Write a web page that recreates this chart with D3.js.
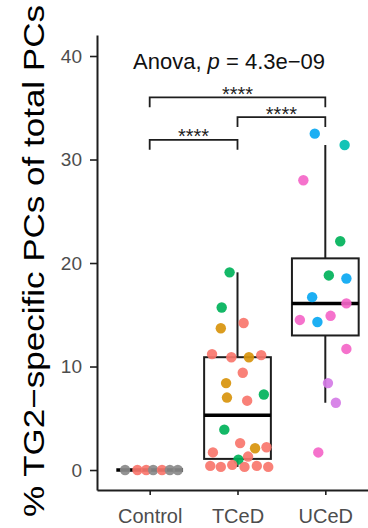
<!DOCTYPE html>
<html>
<head>
<meta charset="utf-8">
<script src="https://cdn.jsdelivr.net/npm/d3@7"></script>
<style>
  body { margin: 0; background: #fff; }
  text { font-family: "Liberation Sans", Arial, sans-serif; }
</style>
</head>
<body>
<div id="chart"></div>
<script>
// groups on the x axis
const groups = ['Control', 'TCeD', 'UCeD'];
const yTicks = [0, 10, 20, 30, 40];

// donor colours (ggplot hue style)
const donorColors = {
  gray: '#8a8a8a', salmon: '#F8766D', orange: '#D8940C', green: '#00B25A',
  teal: '#00BFB0', blue: '#0AA8F2', violet: '#D57CE6', pink: '#F466C8'
};

// values, with horizontal jitter (fraction of group step) and donor colour
const controlValues = [0, 0, 0, 0, 0, 0, 0];
const controlJitter = [-0.28, -0.14, -0.04, 0.04, 0.14, 0.23, 0.32];
const controlDonor = ['gray', 'salmon', 'salmon', 'gray', 'salmon', 'gray', 'gray'];

const tcedValues = [19.1, 15.7, 13.7, 14.2, 11.2, 10.9, 10.9, 11.1, 9.4, 8.4, 7.0, 6.7, 7.3,
  3.9, 2.6, 2.1, 2.2, 1.7, 1.0, 1.3, 0.4, 0.3, 0.5, 0.3, 0.4, 0.3];
const tcedJitter = [-0.09, -0.18, -0.19, 0.07, -0.29, -0.07, 0.13, 0.27, 0.06, -0.13, -0.12, 0.11, 0.30,
  -0.15, 0.03, 0.20, 0.33, -0.28, 0.01, 0.12, -0.31, -0.19, -0.06, 0.08, 0.22, 0.35];
const tcedDonor = ['green', 'green', 'orange', 'salmon', 'salmon', 'salmon', 'orange', 'salmon', 'salmon',
  'orange', 'orange', 'salmon', 'green', 'green', 'salmon', 'orange', 'salmon', 'salmon', 'green', 'salmon',
  'salmon', 'salmon', 'salmon', 'salmon', 'salmon', 'salmon'];

const ucedValues = [32.5, 31.4, 28.0, 22.1, 18.8, 18.5, 16.7, 16.1, 14.5, 14.3, 14.9, 11.7, 8.4, 6.5, 1.7];
const ucedJitter = [-0.12, 0.22, -0.25, 0.17, 0.04, 0.24, -0.15, 0.24, -0.29, -0.09, 0.06, 0.24, 0.03, 0.12, -0.08];
const ucedDonor = ['blue', 'teal', 'pink', 'green', 'green', 'blue', 'blue', 'pink', 'pink', 'blue', 'pink',
  'pink', 'violet', 'violet', 'pink'];

// pairwise comparisons: [from, to, bracket height]
const comparisons = [
  ['Control', 'TCeD', 31.9],
  ['TCeD', 'UCeD', 34.1],
  ['Control', 'UCeD', 36.0]
];
const compLabel = '****';
const anovaP = '4.3e\u221209';

const width = 368;
const height = 528;

const svg = d3.select('#chart')
  .append('svg')
  .attr('width', width)
  .attr('height', height);

const x = d3.scalePoint()
  .domain(groups)
  .range([97, 378])
  .padding(0.6);

const y = d3.scaleLinear()
  .domain([-1.93, 42.03])
  .range([490, 35]);

const step = x.step();
const boxW = step * 0.76;

const series = [
  {name: 'Control', values: controlValues, jitter: controlJitter, donor: controlDonor},
  {name: 'TCeD', values: tcedValues, jitter: tcedJitter, donor: tcedDonor},
  {name: 'UCeD', values: ucedValues, jitter: ucedJitter, donor: ucedDonor}
];

// box stats, ggplot style (type 7 quantiles, 1.5 IQR whiskers)
series.forEach(s => {
  const sorted = s.values.slice().sort(d3.ascending);
  s.q1 = d3.quantileSorted(sorted, 0.25);
  s.med = d3.quantileSorted(sorted, 0.5);
  s.q3 = d3.quantileSorted(sorted, 0.75);
  const iqr = s.q3 - s.q1;
  s.lo = d3.min(sorted.filter(v => v >= s.q1 - 1.5 * iqr));
  s.hi = d3.max(sorted.filter(v => v <= s.q3 + 1.5 * iqr));
});

const ink = '#1e1e1e';

// axes
const yAxis = svg.append('g')
  .attr('transform', 'translate(97,0)')
  .call(d3.axisLeft(y).tickValues(yTicks).tickSize(7).tickSizeOuter(0).tickPadding(8));
yAxis.select('.domain').attr('stroke', ink).attr('stroke-width', 2);
yAxis.selectAll('.tick line').attr('stroke', ink).attr('stroke-width', 1.6);
yAxis.selectAll('.tick text')
  .attr('fill', '#4d4d4d')
  .style('font-size', '19px')
  .style('font-family', '"Liberation Sans", Arial, sans-serif');

const xAxis = svg.append('g')
  .attr('transform', 'translate(0,490)')
  .call(d3.axisBottom(x).tickSize(5).tickSizeOuter(0).tickPadding(6));
xAxis.select('.domain').attr('stroke', ink).attr('stroke-width', 2);
xAxis.selectAll('.tick line').attr('stroke', ink).attr('stroke-width', 1.6);
xAxis.selectAll('.tick text')
  .attr('fill', '#4d4d4d')
  .attr('y', 33)
  .attr('dy', 0)
  .style('font-size', '20px')
  .style('font-family', '"Liberation Sans", Arial, sans-serif');

// y title
svg.append('text')
  .attr('transform', 'translate(44,261) rotate(-90)')
  .attr('text-anchor', 'middle')
  .attr('textLength', 512)
  .attr('lengthAdjust', 'spacingAndGlyphs')
  .style('font-size', '30px')
  .attr('fill', '#000')
  .text('% TG2\u2212specific PCs of total PCs');

// boxes
const box = svg.append('g').selectAll('g')
  .data(series)
  .enter()
  .append('g');

box.append('line')
  .attr('x1', d => x(d.name)).attr('x2', d => x(d.name))
  .attr('y1', d => y(d.q3)).attr('y2', d => y(d.hi))
  .attr('stroke', ink).attr('stroke-width', 2);
box.append('line')
  .attr('x1', d => x(d.name)).attr('x2', d => x(d.name))
  .attr('y1', d => y(d.q1)).attr('y2', d => y(d.lo))
  .attr('stroke', ink).attr('stroke-width', 2);
box.append('rect')
  .attr('x', d => x(d.name) - boxW / 2)
  .attr('width', boxW)
  .attr('y', d => y(d.q3))
  .attr('height', d => y(d.q1) - y(d.q3))
  .attr('fill', 'none')
  .attr('stroke', ink).attr('stroke-width', 2);
box.append('line')
  .attr('x1', d => x(d.name) - boxW / 2).attr('x2', d => x(d.name) + boxW / 2)
  .attr('y1', d => y(d.med)).attr('y2', d => y(d.med))
  .attr('stroke', '#000').attr('stroke-width', 3.5);

// jittered points
const pts = [];
series.forEach(s => {
  s.values.forEach((v, i) => {
    pts.push({group: s.name, value: v, jitter: s.jitter[i], donor: s.donor[i]});
  });
});

svg.append('g').selectAll('circle')
  .data(pts)
  .enter()
  .append('circle')
  .attr('cx', d => x(d.group) + d.jitter * step)
  .attr('cy', d => y(d.value))
  .attr('r', 5.2)
  .attr('fill', d => donorColors[d.donor])
  .attr('fill-opacity', 0.92);

// comparison brackets
const br = svg.append('g').selectAll('g')
  .data(comparisons)
  .enter()
  .append('g');

br.append('path')
  .attr('d', d => {
    const x1 = x(d[0]), x2 = x(d[1]);
    const yt = y(d[2]), yb = y(d[2] - 0.95);
    return 'M' + x1 + ',' + yb + 'V' + yt + 'H' + x2 + 'V' + yb;
  })
  .attr('fill', 'none')
  .attr('stroke', ink)
  .attr('stroke-width', 1.8);

br.append('text')
  .attr('x', d => (x(d[0]) + x(d[1])) / 2)
  .attr('y', d => y(d[2]) + 3.5)
  .attr('text-anchor', 'middle')
  .style('font-size', '20px')
  .attr('fill', ink)
  .text(compLabel);

// anova label
const an = svg.append('text')
  .attr('x', 133)
  .attr('y', 69)
  .style('font-size', '22px')
  .attr('fill', '#111');
an.append('tspan').text('Anova, ');
an.append('tspan').style('font-style', 'italic').text('p');
an.append('tspan').text(' = ' + anovaP);
</script>
</body>
</html>
